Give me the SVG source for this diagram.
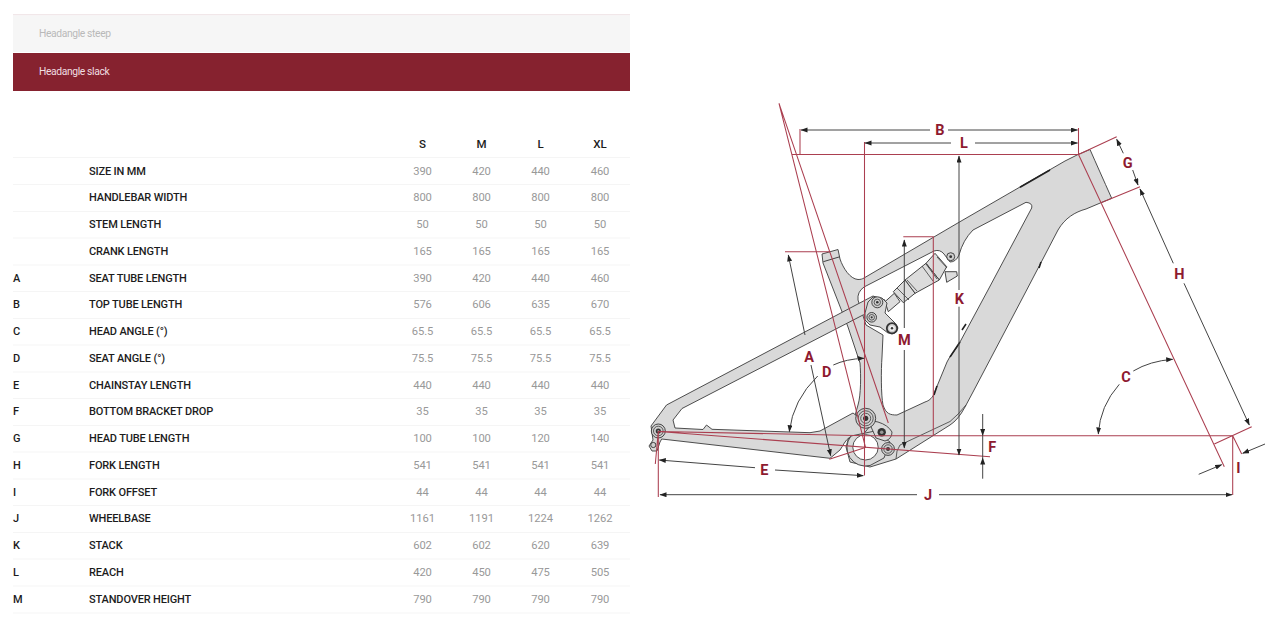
<svg xmlns="http://www.w3.org/2000/svg" width="1280" height="622" viewBox="0 0 1280 622">
<style>
text{font-family:"Roboto","Liberation Sans",sans-serif}
.tab{font-size:10.3px;letter-spacing:-.37px}
.h{fill:#1c1c1c;font-weight:500;font-size:11px;letter-spacing:-.15px}
.n{fill:#999;font-size:11.2px;text-anchor:middle;letter-spacing:-.05px}
.c{fill:#1c1c1c;font-weight:500;font-size:11.5px;text-anchor:middle}
.sep{stroke:#f5f5f5;stroke-width:1}
.r{fill:none;stroke:#ab3f50;stroke-width:1.05}
.d{fill:none;stroke:#444;stroke-width:1;marker-end:url(#a)}
.p{fill:none;stroke:#444;stroke-width:1}
.l{fill:#8e1a30;font-weight:700;font-size:14.5px;text-anchor:middle}
.f{fill:#d9d9d9;stroke:#444;stroke-width:.95;stroke-linejoin:round}
.o{fill:none;stroke:#3c3c3c;stroke-width:.8}
.s{fill:#dcdcdc;stroke:#333;stroke-width:.9;stroke-linejoin:round}
.pv{fill:#cfcfcf;stroke:#333;stroke-width:.9}
.pc{fill:#333}
</style>
<defs>
<marker id="a" markerUnits="userSpaceOnUse" markerWidth="8" markerHeight="6" refX="6.5" refY="2.5" orient="auto"><path d="M0 0L7 2.5L0 5Z" fill="#222"/></marker>
</defs>
<rect width="1280" height="622" fill="#fff"/>
<g id="tabs">
<rect x="13" y="14" width="617" height="1.5" fill="#f1e7e9"/>
<rect x="13" y="15.5" width="617" height="36.5" fill="#f6f6f6"/>
<rect x="13" y="53" width="617" height="38" fill="#86222f"/>
<text class="tab" x="39" y="36.6" fill="#b9b9b9">Headangle steep</text>
<text class="tab" x="39" y="74.6" fill="#f0dfe1">Headangle slack</text>
</g>
<path id="table-rules" class="sep" d="M13 157.5H630M13 184.5H630M13 211.5H630M13 238H630M13 265H630M13 291.5H630M13 318.5H630M13 345H630M13 372H630M13 398.5H630M13 425.5H630M13 452H630M13 479H630M13 505.5H630M13 532.5H630M13 559H630M13 586H630M13 613H630"/>
<g id="table" transform="translate(0,-.5)">
<text class="c" x="422.5" y="148">S</text><text class="c" x="481.5" y="148">M</text><text class="c" x="540.5" y="148">L</text><text class="c" x="600" y="148">XL</text>
<g id="r1"><text class="h" x="89" y="175">SIZE IN MM</text><text class="n" x="422.5" y="175">390</text><text class="n" x="481.5" y="175">420</text><text class="n" x="540.5" y="175">440</text><text class="n" x="600" y="175">460</text></g>
<g id="r2"><text class="h" x="89" y="201.8">HANDLEBAR WIDTH</text><text class="n" x="422.5" y="201.8">800</text><text class="n" x="481.5" y="201.8">800</text><text class="n" x="540.5" y="201.8">800</text><text class="n" x="600" y="201.8">800</text></g>
<g id="r3"><text class="h" x="89" y="228.5">STEM LENGTH</text><text class="n" x="422.5" y="228.5">50</text><text class="n" x="481.5" y="228.5">50</text><text class="n" x="540.5" y="228.5">50</text><text class="n" x="600" y="228.5">50</text></g>
<g id="r4"><text class="h" x="89" y="255.2">CRANK LENGTH</text><text class="n" x="422.5" y="255.2">165</text><text class="n" x="481.5" y="255.2">165</text><text class="n" x="540.5" y="255.2">165</text><text class="n" x="600" y="255.2">165</text></g>
<g id="r5"><text class="h" x="13" y="282">A</text><text class="h" x="89" y="282">SEAT TUBE LENGTH</text><text class="n" x="422.5" y="282">390</text><text class="n" x="481.5" y="282">420</text><text class="n" x="540.5" y="282">440</text><text class="n" x="600" y="282">460</text></g>
<g id="r6"><text class="h" x="13" y="308.8">B</text><text class="h" x="89" y="308.8">TOP TUBE LENGTH</text><text class="n" x="422.5" y="308.8">576</text><text class="n" x="481.5" y="308.8">606</text><text class="n" x="540.5" y="308.8">635</text><text class="n" x="600" y="308.8">670</text></g>
<g id="r7"><text class="h" x="13" y="335.5">C</text><text class="h" x="89" y="335.5">HEAD ANGLE (°)</text><text class="n" x="422.5" y="335.5">65.5</text><text class="n" x="481.5" y="335.5">65.5</text><text class="n" x="540.5" y="335.5">65.5</text><text class="n" x="600" y="335.5">65.5</text></g>
<g id="r8"><text class="h" x="13" y="362.2">D</text><text class="h" x="89" y="362.2">SEAT ANGLE (°)</text><text class="n" x="422.5" y="362.2">75.5</text><text class="n" x="481.5" y="362.2">75.5</text><text class="n" x="540.5" y="362.2">75.5</text><text class="n" x="600" y="362.2">75.5</text></g>
<g id="r9"><text class="h" x="13" y="389">E</text><text class="h" x="89" y="389">CHAINSTAY LENGTH</text><text class="n" x="422.5" y="389">440</text><text class="n" x="481.5" y="389">440</text><text class="n" x="540.5" y="389">440</text><text class="n" x="600" y="389">440</text></g>
<g id="r10"><text class="h" x="13" y="415.8">F</text><text class="h" x="89" y="415.8">BOTTOM BRACKET DROP</text><text class="n" x="422.5" y="415.8">35</text><text class="n" x="481.5" y="415.8">35</text><text class="n" x="540.5" y="415.8">35</text><text class="n" x="600" y="415.8">35</text></g>
<g id="r11"><text class="h" x="13" y="442.5">G</text><text class="h" x="89" y="442.5">HEAD TUBE LENGTH</text><text class="n" x="422.5" y="442.5">100</text><text class="n" x="481.5" y="442.5">100</text><text class="n" x="540.5" y="442.5">120</text><text class="n" x="600" y="442.5">140</text></g>
<g id="r12"><text class="h" x="13" y="469.2">H</text><text class="h" x="89" y="469.2">FORK LENGTH</text><text class="n" x="422.5" y="469.2">541</text><text class="n" x="481.5" y="469.2">541</text><text class="n" x="540.5" y="469.2">541</text><text class="n" x="600" y="469.2">541</text></g>
<g id="r13"><text class="h" x="13" y="496">I</text><text class="h" x="89" y="496">FORK OFFSET</text><text class="n" x="422.5" y="496">44</text><text class="n" x="481.5" y="496">44</text><text class="n" x="540.5" y="496">44</text><text class="n" x="600" y="496">44</text></g>
<g id="r14"><text class="h" x="13" y="522.8">J</text><text class="h" x="89" y="522.8">WHEELBASE</text><text class="n" x="422.5" y="522.8">1161</text><text class="n" x="481.5" y="522.8">1191</text><text class="n" x="540.5" y="522.8">1224</text><text class="n" x="600" y="522.8">1262</text></g>
<g id="r15"><text class="h" x="13" y="549.5">K</text><text class="h" x="89" y="549.5">STACK</text><text class="n" x="422.5" y="549.5">602</text><text class="n" x="481.5" y="549.5">602</text><text class="n" x="540.5" y="549.5">620</text><text class="n" x="600" y="549.5">639</text></g>
<g id="r16"><text class="h" x="13" y="576.2">L</text><text class="h" x="89" y="576.2">REACH</text><text class="n" x="422.5" y="576.2">420</text><text class="n" x="481.5" y="576.2">450</text><text class="n" x="540.5" y="576.2">475</text><text class="n" x="600" y="576.2">505</text></g>
<g id="r17"><text class="h" x="13" y="603">M</text><text class="h" x="89" y="603">STANDOVER HEIGHT</text><text class="n" x="422.5" y="603">790</text><text class="n" x="481.5" y="603">790</text><text class="n" x="540.5" y="603">790</text><text class="n" x="600" y="603">790</text></g>
</g>
<g id="frame">
<path id="main-frame" class="f" fill-rule="evenodd" d="M822 254L838 249.5L840 259C843 268 850 279 858 279.5C861 279.5 862 279 864 278L960 221.7L1065 161L1078 154.5L1090 149.5Q1099 170 1111.7 198.3L1101 202.7L1086 209C1075 212 1065 218 1058 230L1026.7 290L973 392L965 407Q958 420 950 425L896 459L870 467L850 462L846 447L858 405C861 395 861 375 860 363L848 327L823 263Z
M1026 202.3Q1033 203 1031.7 208L988 290L960 342C956 350 950 355 947 362L933 396C930 400 928 401 925 402L897 415C890 415 886 414 883 405C881 395 881 370 882 357L883 335L866 325L858 300Q857 292 864 287L934 251Q940 249 944 254L950 262Q956 262 959 255Q963 240 973 230Z"/>
<path class="p" stroke-width="1.3" d="M823.3 261.7L840 256.7"/>
<path class="o" d="M896 459Q896 450 900 445L950 421.5Q958 415 966 405"/>
<path id="tube-accents" fill="none" stroke="#222" stroke-width="1.6" d="M1020 187.3L1050 170M1039 268L1041 262M960 342L950 357M934 395L937 386M962 330L966 324"/>
<g id="shock">
<path class="s" d="M885 301.7L894.3 293.3L900 301.7L888.3 311.7Z"/>
<path class="s" d="M945 271.7L956.7 271.7L957.3 276L946.7 282.3Z" fill="#999"/>
<path class="s" d="M926 263.3L935 253.3L946.7 266.7L939.3 280Z"/>
<path class="s" d="M905 280L926 263.3L939.3 280L915 293.3Z"/>
<path class="s" d="M893.3 291.7L905 280L915 293.3L903.3 302.7Z"/>
<path class="o" d="M897 288L909 300M907 280L917 291M922 266L933 281M926 264L937 279M937 257L947 268"/>
</g>
<circle class="pv" cx="950.7" cy="256.7" r="4"/><circle class="pc" cx="950.7" cy="256.7" r="1.4"/>
<path id="rear-triangle" class="f" d="M651 426L666.5 405L873 296L885 300L880 312L863 315L682 408.5L673 420L675 428L703 429.5L706.5 425L712 429.3L810 432.7L820 431L853 413L870 426L862 436L850 437C845 440 843 446 840 450L830 458.3L661.7 439L660 442L657 451L652 451L649 446L653 440Z"/>
<path id="rocker" class="f" d="M868 302L873 297L882 298L887 303L885 313L895 323L898 328L895 333L888 333L880 327L870 325L865 320L865 313Z"/>
<circle class="pv" cx="653.3" cy="445" r="2.6" fill="#fff"/>
<circle class="pv" cx="877.3" cy="302.3" r="5.5"/><circle class="o" cx="877.3" cy="302.3" r="3.2"/><circle class="pc" cx="877.3" cy="302.3" r="1.3"/>
<circle class="pv" cx="871.7" cy="317.3" r="4.8"/><circle class="o" cx="871.7" cy="317.3" r="2.8"/><circle class="pc" cx="871.7" cy="317.3" r="1.1"/>
<circle cx="892" cy="328.3" r="5.2" fill="#ccc" stroke="#333" stroke-width="1.8"/><circle fill="#eee" cx="892" cy="328.3" r="2.8"/><circle class="pc" cx="892" cy="328.3" r="1.2"/>
<path id="bb-shell" class="f" d="M851 436A18.5 18.5 0 0 0 870 465.5L884 458L890 442L875 431Z"/>
<circle cx="865.5" cy="447.3" r="12.7" fill="#fff" stroke="#3c3c3c" stroke-width=".9"/>
<path class="f" d="M868 420L878 422Q888 425 892 432Q892 439 885 441L876 438Z"/>
<circle class="pv" cx="865.7" cy="418.3" r="10"/><circle class="o" cx="865.7" cy="418.3" r="7.5"/><circle class="o" cx="865.7" cy="418.3" r="5"/><circle class="pc" cx="865.7" cy="418.3" r="2.6"/>
<circle class="pc" cx="881.7" cy="432.3" r="4.2"/><circle fill="#999" cx="881.7" cy="432.3" r="1.8"/>
<circle class="pv" cx="888" cy="449" r="6.4"/><circle class="o" cx="888" cy="449" r="4.2"/><circle class="pc" cx="888" cy="449" r="2"/>
<circle class="pv" cx="658.3" cy="431" r="7"/><circle class="o" cx="658.3" cy="431" r="4.8"/><circle class="pc" cx="658.3" cy="431" r="2.6"/><circle fill="#999" cx="658.3" cy="431" r="1"/>
</g>
<g id="connectors">
<g id="guides">
<path class="r" d="M779 103.3L865.5 447.3M779 103.3L888.3 423"/>
<path class="r" d="M792 154.5H1078.5M800 154.5V129M864.5 142V475.5M1078.5 154.5V128"/>
<path class="r" d="M1078.5 154.5L1116.7 136.7M1101 202.7L1140 186.7M1078.5 154.5L1224.3 466.7"/>
<path class="r" d="M1251.7 426.7L1214.3 444M1232.7 435.7L1241.7 454M1232.7 435.7V495"/>
<path class="r" d="M658.3 431.5L866.5 435.7H1232.7M658.3 431.5L990 456.7M658.3 431.5V497M658.3 431.5L655.3 464"/>
<path class="r" d="M785 251.7H830M829.3 459.3L866 447.3"/>
<path class="r" d="M903.3 236.7H933.3V436"/>
</g>
<g id="dimensions">
<path class="d" d="M930 130H801"/><path class="d" d="M948 130H1077.5"/>
<path class="d" d="M951 143H865"/><path class="d" d="M975 143H1077.5"/>
<path class="d" d="M1123.3 153.3L1116.7 139.3"/><path class="d" d="M1132.7 170L1138 185"/>
<path class="d" d="M1173.3 263.3L1140 189"/><path class="d" d="M1184 283.3L1249.3 425"/>
<path class="d" d="M1265 444L1242.7 453.3"/><path class="d" d="M1198.7 474.3L1221.7 464.7"/>
<path class="d" d="M1133.3 371Q1150 361 1172.7 359.3"/><path class="d" d="M1119.3 384.3Q1100 406 1098.3 434"/>
<path class="d" d="M982.7 414V435.5"/><path class="d" d="M982.7 478.7V458"/><path class="p" d="M982.7 435.5V458"/>
<path class="d" d="M917 494.7H660"/><path class="d" d="M939 494.7H1232"/>
<path class="d" d="M755 467.7L659.3 460"/><path class="d" d="M775 470L863.3 475.7"/>
<path class="d" d="M805 335L788.3 255"/><path class="d" d="M811 365L830.7 455.7"/>
<path class="d" d="M833.3 365Q846 359 864 358.3"/><path class="d" d="M817.7 376Q793 400 789.3 431.7"/>
<path class="d" d="M904.3 328V240"/><path class="d" d="M904.3 350V448"/>
<path class="d" d="M959 290V156"/><path class="d" d="M959 306.7V455"/>
</g>
</g>
<g id="labels">
<text class="l" x="940" y="135.2">B</text>
<text class="l" x="964" y="148.2">L</text>
<text class="l" x="1127.7" y="167.5">G</text>
<text class="l" x="1179.3" y="278.5">H</text>
<text class="l" x="1126" y="381.9">C</text>
<text class="l" x="1238.3" y="472.5">I</text>
<text class="l" x="992.3" y="451.9">F</text>
<text class="l" x="928" y="499.9">J</text>
<text class="l" x="764.3" y="474.5">E</text>
<text class="l" x="809" y="361.9">A</text>
<text class="l" x="826.7" y="376.9">D</text>
<text class="l" x="904.3" y="345.2">M</text>
<text class="l" x="959.3" y="303.5">K</text>
</g>
</svg>
